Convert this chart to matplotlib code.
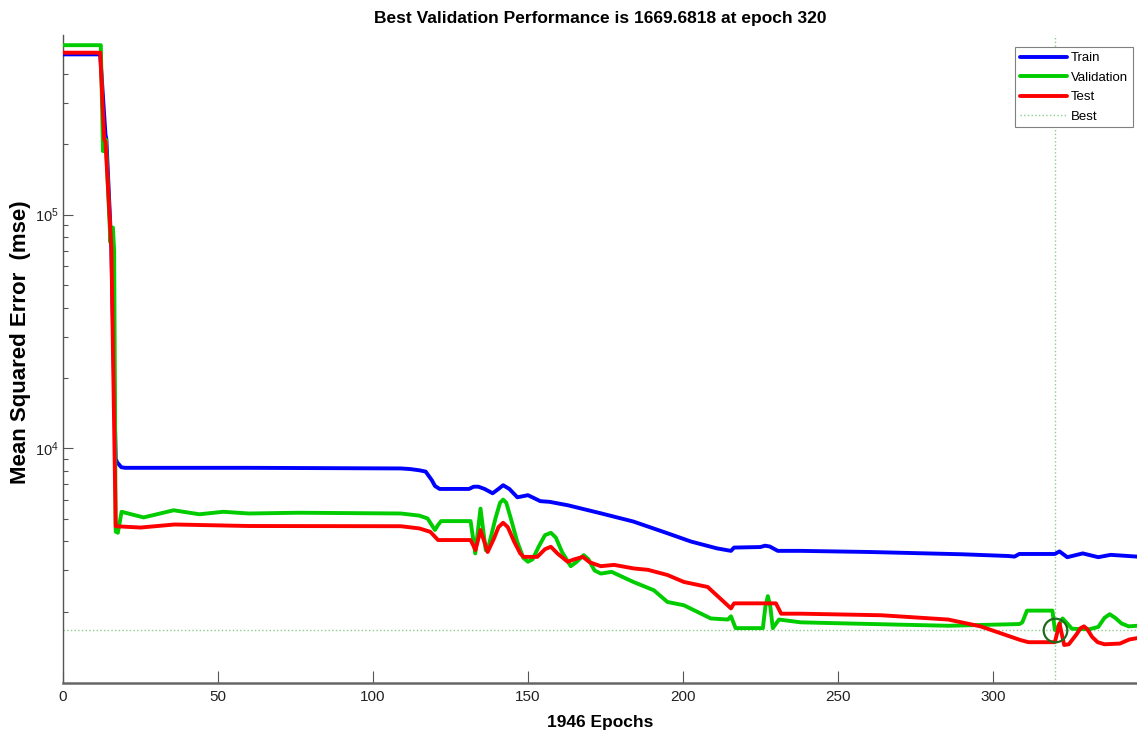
import numpy as np
import matplotlib
matplotlib.use("Agg")
import matplotlib.pyplot as plt
from matplotlib import font_manager as fm
from matplotlib.lines import Line2D
from matplotlib.ticker import LogLocator, NullFormatter, FixedLocator, LogFormatterSciNotation

# ---------------- data ----------------
train_epochs = [0, 12, 13.7, 14.0, 15.6, 17.0, 17.5, 18.8, 20, 60, 109, 112, 115, 117, 119, 120,
                121.5, 131, 132.5, 134, 136, 138.6, 140.5, 142, 144, 146.6, 150, 154, 157, 163,
                173.5, 184, 195, 202.6, 211, 215.5, 216.5, 225, 226.5, 228, 230.6, 238, 260, 290,
                305, 307, 308.5, 320, 321.5, 324, 329, 334, 338, 346.5]
train_mse = [4.85e5, 4.85e5, 2.2e5, 2.1e5, 7.2e4, 9000, 8700, 8300, 8250, 8250, 8200, 8150, 8050,
             7950, 7300, 6900, 6700, 6700, 6850, 6850, 6700, 6420, 6700, 6950, 6700, 6170, 6300,
             5940, 5900, 5700, 5270, 4860, 4330, 3990, 3730, 3640, 3760, 3780, 3830, 3800, 3640,
             3640, 3600, 3520, 3460, 3440, 3530, 3530, 3620, 3420, 3550, 3420, 3500, 3440]

val_epochs = [0, 12.2, 12.9, 13.5, 13.8, 15.3, 15.5, 16.1, 16.5, 17.0, 17.7, 18.9, 26, 35.7, 44,
              51.7, 60, 76, 109, 115, 117.6, 120, 121, 122, 131.5, 133, 134.7, 136.4, 137.5,
              139.5, 141, 142, 143, 144.5, 146.5, 148.5, 150, 151.5, 153.5, 155.5, 157.4, 159,
              161, 163.8, 165.5, 168, 169.5, 171.5, 173.5, 177, 184, 190.6, 195, 200.3, 209,
              214.5, 215.5, 217, 225.8, 226.6, 227.4, 228.2, 229, 231, 238, 253, 285.6, 308.6,
              309.5, 311.0, 319.2, 320, 321, 322.5, 324, 325.5, 331, 334, 336, 337.7, 339.5,
              341.5, 343.8, 346.5]
val_mse = [5.31e5, 5.31e5, 1.87e5, 1.87e5, 2.1e5, 7.6e4, 8.8e4, 8.8e4, 7.0e4, 4400, 4350, 5350,
           5060, 5430, 5220, 5350, 5260, 5300, 5260, 5150, 5010, 4470, 4700, 4880, 4880, 3550,
           5520, 3660, 3900, 5000, 5850, 6030, 5850, 5000, 4000, 3400, 3270, 3350, 3800, 4250,
           4350, 4150, 3600, 3130, 3250, 3490, 3350, 3000, 2910, 2960, 2680, 2470, 2200, 2130,
           1870, 1850, 1910, 1700, 1700, 2100, 2330, 2100, 1700, 1850, 1800, 1780, 1740, 1770,
           1800, 2020, 2020, 1669.6818, 1720, 1870, 1780, 1690, 1680, 1720, 1880, 1950, 1880,
           1780, 1730, 1740]

test_epochs = [0, 12, 13.3, 13.7, 15.6, 17.0, 25, 36, 60, 109, 115, 118.5, 121, 131.5, 133.1,
               134.7, 137, 139, 140.5, 142, 143.5, 145.5, 147.5, 148.6, 153, 155.5, 157.4, 159.5,
               162.8, 165, 167.7, 170, 173.5, 177.8, 184.2, 188.7, 195, 200.3, 208, 215.5, 216.5,
               230, 231.7, 238, 264, 285.6, 296, 309, 311.5, 320, 321.5, 323, 324.5, 327, 328.3,
               329.4, 330.5, 332, 333.8, 336, 341, 344, 346.5]
test_mse = [4.93e5, 4.93e5, 2.1e5, 2.05e5, 7.2e4, 4640, 4580, 4720, 4650, 4640, 4540, 4390,
            4050, 4050, 3670, 4470, 3600, 4100, 4600, 4800, 4600, 4000, 3550, 3430, 3430, 3700,
            3790, 3550, 3270, 3350, 3430, 3250, 3130, 3170, 3060, 3020, 2870, 2680, 2550, 2065,
            2170, 2170, 1960, 1960, 1930, 1850, 1730, 1510, 1480, 1480, 1780, 1440, 1450, 1600,
            1700, 1730, 1680, 1560, 1480, 1450, 1460, 1520, 1540]

best_epoch = 320
best_perf = 1669.6818
total_epochs = 1946
legend_labels = ["Train", "Validation", "Test", "Best"]
x_ticks = [0, 50, 100, 150, 200, 250, 300]

# ---------------- fonts ----------------
names = {f.name for f in fm.fontManager.ttflist}
narrow = "Liberation Sans Narrow" in names
HFONT = ["Liberation Sans Narrow", "Liberation Sans", "DejaVu Sans"] if narrow else ["Liberation Sans", "DejaVu Sans"]
RFONT = ["Liberation Sans", "DejaVu Sans"]
plt.rcParams["font.family"] = RFONT
plt.rcParams["mathtext.fontset"] = "custom"
plt.rcParams["mathtext.rm"] = "Liberation Sans"
plt.rcParams["mathtext.it"] = "Liberation Sans:italic"
plt.rcParams["mathtext.bf"] = "Liberation Sans:bold"

W, H = 1137, 732
fig = plt.figure(figsize=(W / 100, H / 100), dpi=100)
ax_l, ax_r, ax_t, ax_b = 63, 1137, 35, 683
ax = fig.add_axes([ax_l / W, 1 - ax_b / H, (ax_r - ax_l) / W, (ax_b - ax_t) / H])

best_col = (0.55, 0.8, 0.55)
ax.axhline(best_perf, color=best_col, ls=":", lw=1.0, zorder=1)
ax.axvline(best_epoch, color=best_col, ls=":", lw=1.0, zorder=1)

lw = 2.8
kw = dict(lw=lw, solid_joinstyle="round", solid_capstyle="round")
l1, = ax.plot(train_epochs, train_mse, color="#0000ff", zorder=3, **kw)
l2, = ax.plot(val_epochs, val_mse, color="#00cc00", zorder=4, **kw)
l3, = ax.plot(test_epochs, test_mse, color="#ff0000", zorder=5, **kw)
ax.plot([best_epoch], [best_perf], marker="o", ms=17, mfc="none", mec="#1e6b1e", mew=1.6, zorder=6)
l4 = Line2D([], [], color=best_col, ls=":", lw=1.0)

ax.set_yscale("log")
ax.set_xlim(0, 346.5)
ax.set_ylim(990, 5.87e5)

ax.xaxis.set_major_locator(FixedLocator(x_ticks))
ax.yaxis.set_major_locator(FixedLocator([1e4, 1e5]))
ax.yaxis.set_major_formatter(LogFormatterSciNotation())
ax.yaxis.set_minor_locator(LogLocator(base=10, subs=np.arange(2, 10)))
ax.yaxis.set_minor_formatter(NullFormatter())

ax.tick_params(axis="x", which="major", direction="in", length=8.5, width=0.8, color="#555555", pad=5)
ax.tick_params(axis="y", which="major", direction="in", length=7, width=0.8, color="#555555", pad=3,
               labelsize=10.5)
ax.tick_params(axis="y", which="minor", direction="in", length=3.6, width=0.8, color="#555555")
for lab in ax.get_xticklabels():
    lab.set_family(HFONT)
    lab.set_fontsize(12.5 if narrow else 11)
    lab.set_color("#222222")
for lab in ax.get_yticklabels():
    lab.set_color("#222222")

ax.spines["top"].set_visible(False)
ax.spines["right"].set_visible(False)
ax.spines["left"].set_color("#555555")
ax.spines["left"].set_linewidth(1.0)
ax.spines["bottom"].set_color("#666666")
ax.spines["bottom"].set_linewidth(1.8)

ax.set_title(f"Best Validation Performance is {best_perf:.4f} at epoch {best_epoch}",
             family=HFONT, fontsize=13.5 if narrow else 12.5, fontweight="bold", pad=9)
ax.set_xlabel(f"{total_epochs} Epochs", family=HFONT, fontsize=14 if narrow else 12.5, fontweight="bold")
ax.xaxis.set_label_coords(0.5, -0.049)
ax.set_ylabel("Mean Squared Error  (mse)", family=RFONT, fontsize=16, fontweight="bold")
ax.yaxis.set_label_coords(-0.0295, 0.526)

leg = ax.legend([l1, l2, l3, l4], legend_labels, loc="upper right",
                bbox_to_anchor=(0.996, 0.981), frameon=True, fancybox=False,
                framealpha=1, edgecolor="#808080", handlelength=3.6, handletextpad=0.3,
                labelspacing=0.55, borderpad=0.35, borderaxespad=0,
                prop={"family": HFONT, "size": 11 if narrow else 9.5})
leg.get_frame().set_linewidth(0.8)

fig.savefig("out.png", dpi=100)
